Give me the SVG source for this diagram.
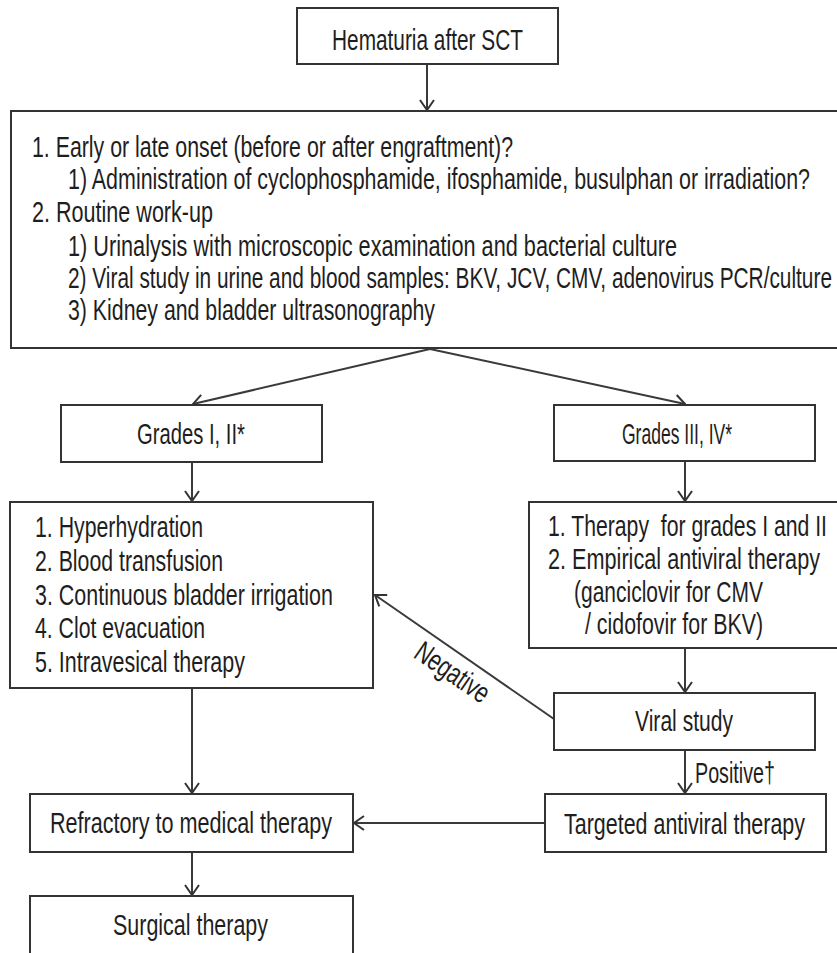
<svg xmlns="http://www.w3.org/2000/svg" width="837" height="953" viewBox="0 0 837 953">
<style>
.box{fill:#fff;stroke:#333;stroke-width:2}
.t{font-family:"Liberation Sans",Arial,sans-serif;font-size:29.5px;fill:#1e1e1e}
.c{text-anchor:middle}
.ln{stroke:#3a3a3a;stroke-width:2;fill:none}
</style>
<defs>
<marker id="ah" viewBox="0 0 12 16" refX="11" refY="8" markerWidth="12" markerHeight="16" markerUnits="userSpaceOnUse" orient="auto">
<path d="M1,1 L11,8 L1,15" fill="none" stroke="#333" stroke-width="2"/>
</marker>
</defs>
<rect width="837" height="953" fill="#fff"/>
<g id="connectors">
<line class="ln" x1="427" y1="64" x2="427" y2="110" marker-end="url(#ah)"/>
<line class="ln" x1="430" y1="349" x2="193" y2="404" marker-end="url(#ah)"/>
<line class="ln" x1="430" y1="349" x2="685" y2="404" marker-end="url(#ah)"/>
<line class="ln" x1="192" y1="462" x2="192" y2="501" marker-end="url(#ah)"/>
<line class="ln" x1="685" y1="461" x2="685" y2="501" marker-end="url(#ah)"/>
<line class="ln" x1="685" y1="648" x2="685" y2="692" marker-end="url(#ah)"/>
<line class="ln" x1="554" y1="719" x2="375" y2="595" marker-end="url(#ah)"/>
<line class="ln" x1="685" y1="750" x2="685" y2="793" marker-end="url(#ah)"/>
<line class="ln" x1="545" y1="823" x2="354" y2="823" marker-end="url(#ah)"/>
<line class="ln" x1="192" y1="688" x2="192" y2="793" marker-end="url(#ah)"/>
<line class="ln" x1="192" y1="852" x2="192" y2="895" marker-end="url(#ah)"/>
<text class="t c" font-size="26" transform="translate(452,673) rotate(34.5) scale(0.68,1)" x="0" y="9" textLength="123.5" lengthAdjust="spacingAndGlyphs">Negative</text>
<text class="t" font-size="28" transform="translate(695,783) scale(0.68,1)" textLength="117.6" lengthAdjust="spacingAndGlyphs">Positive†</text>
</g>
<g id="n-hematuria">
<rect class="box" x="297" y="8" width="261" height="56"/>
<text class="t c" font-size="31" transform="translate(427.5,50) scale(0.68,1)" textLength="280.9" lengthAdjust="spacingAndGlyphs">Hematuria after SCT</text>
</g>
<g id="n-workup">
<rect class="box" x="11" y="111" width="835" height="237"/>
<text class="t" transform="translate(32,157) scale(0.68,1)" textLength="707.4" lengthAdjust="spacingAndGlyphs">1. Early or late onset (before or after engraftment)?</text>
<text class="t" transform="translate(68,189) scale(0.68,1)" textLength="1091.2" lengthAdjust="spacingAndGlyphs">1) Administration of cyclophosphamide, ifosphamide, busulphan or irradiation?</text>
<text class="t" transform="translate(32,222) scale(0.68,1)" textLength="266.2" lengthAdjust="spacingAndGlyphs">2. Routine work-up</text>
<text class="t" transform="translate(68,256) scale(0.68,1)" textLength="895.6" lengthAdjust="spacingAndGlyphs">1) Urinalysis with microscopic examination and bacterial culture</text>
<text class="t" transform="translate(68,288) scale(0.68,1)" textLength="1123.5" lengthAdjust="spacingAndGlyphs">2) Viral study in urine and blood samples: BKV, JCV, CMV, adenovirus PCR/culture</text>
<text class="t" transform="translate(68,320) scale(0.68,1)" textLength="539.7" lengthAdjust="spacingAndGlyphs">3) Kidney and bladder ultrasonography</text>
</g>
<g id="n-grades12">
<rect class="box" x="61" y="405" width="261" height="57"/>
<text class="t c" transform="translate(191,444) scale(0.68,1)" textLength="158.8" lengthAdjust="spacingAndGlyphs">Grades I, II*</text>
</g>
<g id="n-grades34">
<rect class="box" x="554" y="405" width="261" height="56"/>
<text class="t c" transform="translate(677,444) scale(0.68,1)" textLength="161.8" lengthAdjust="spacingAndGlyphs">Grades III, IV*</text>
</g>
<g id="n-conservative">
<rect class="box" x="10" y="502" width="363" height="186"/>
<text class="t" transform="translate(35,537) scale(0.68,1)" textLength="247.1" lengthAdjust="spacingAndGlyphs">1. Hyperhydration</text>
<text class="t" transform="translate(35,571) scale(0.68,1)" textLength="276.5" lengthAdjust="spacingAndGlyphs">2. Blood transfusion</text>
<text class="t" transform="translate(35,605) scale(0.68,1)" textLength="438.2" lengthAdjust="spacingAndGlyphs">3. Continuous bladder irrigation</text>
<text class="t" transform="translate(35,638) scale(0.68,1)" textLength="250" lengthAdjust="spacingAndGlyphs">4. Clot evacuation</text>
<text class="t" transform="translate(35,672) scale(0.68,1)" textLength="308.8" lengthAdjust="spacingAndGlyphs">5. Intravesical therapy</text>
</g>
<g id="n-empirical">
<rect class="box" x="529" y="502" width="320" height="146"/>
<text class="t" transform="translate(548,536) scale(0.68,1)" textLength="410.3" lengthAdjust="spacingAndGlyphs">1. Therapy&#160; for grades I and II</text>
<text class="t" transform="translate(548,569) scale(0.68,1)" textLength="400" lengthAdjust="spacingAndGlyphs">2. Empirical antiviral therapy</text>
<text class="t" transform="translate(574,602) scale(0.68,1)" textLength="277.9" lengthAdjust="spacingAndGlyphs">(ganciclovir for CMV</text>
<text class="t" transform="translate(585,634) scale(0.68,1)" textLength="261.8" lengthAdjust="spacingAndGlyphs">/ cidofovir for BKV)</text>
</g>
<g id="n-viral">
<rect class="box" x="554" y="693" width="261" height="57"/>
<text class="t c" transform="translate(684,731) scale(0.68,1)" textLength="144.1" lengthAdjust="spacingAndGlyphs">Viral study</text>
</g>
<g id="n-targeted">
<rect class="box" x="545" y="794" width="281" height="58"/>
<text class="t c" transform="translate(684.5,834) scale(0.68,1)" textLength="354.4" lengthAdjust="spacingAndGlyphs">Targeted antiviral therapy</text>
</g>
<g id="n-refractory">
<rect class="box" x="30" y="794" width="323" height="58"/>
<text class="t c" transform="translate(191,833) scale(0.68,1)" textLength="414.7" lengthAdjust="spacingAndGlyphs">Refractory to medical therapy</text>
</g>
<g id="n-surgical">
<rect class="box" x="30" y="896" width="323" height="80"/>
<text class="t c" transform="translate(190.5,935) scale(0.68,1)" textLength="227.9" lengthAdjust="spacingAndGlyphs">Surgical therapy</text>
</g>
</svg>
